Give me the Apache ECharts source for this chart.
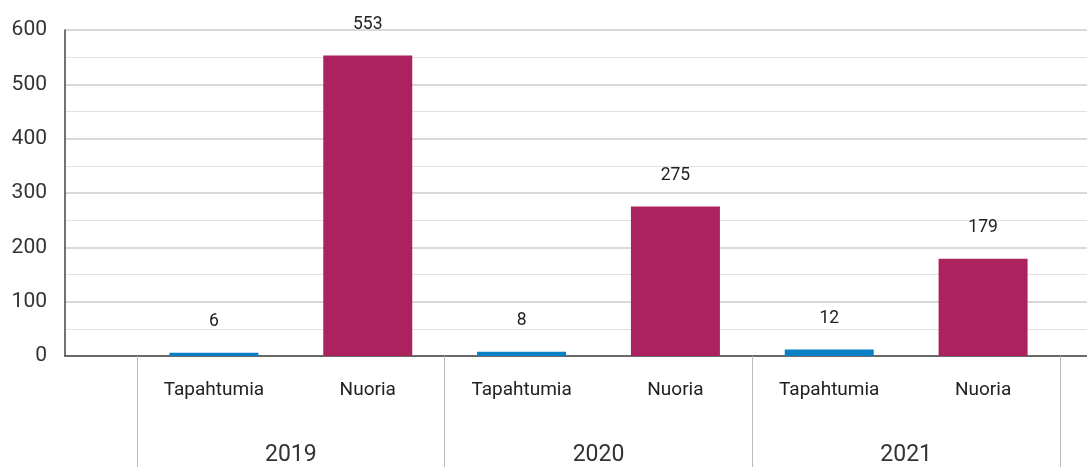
<!DOCTYPE html>
<html>
<head>
<meta charset="utf-8">
<script src="https://cdn.jsdelivr.net/npm/echarts@6/dist/echarts.min.js"></script>
<style>
  html, body { margin: 0; padding: 0; background: #fff; }
  #chart { width: 1087px; height: 467px; }
</style>
</head>
<body>
<div id="chart"></div>
<script>
// data
const years = ['2019', '2020', '2021'];
const subCategories = ['Tapahtumia', 'Nuoria', 'Tapahtumia', 'Nuoria', 'Tapahtumia', 'Nuoria'];
const values = [6, 553, 8, 275, 12, 179];

const BLUE = '#0980c6';
const MAGENTA = '#ab225f';
const FONT = 'Roboto, "Liberation Sans", sans-serif';

const chart = echarts.init(document.getElementById('chart'));

chart.setOption({
    animation: false,
    textStyle: { fontFamily: FONT },
    grid: [
        // whole plot area (gridlines, axes)
        { left: 65, right: 0, top: 30, bottom: 111 },
        // bar area
        { left: 137, right: 27, top: 30, bottom: 111 }
    ],
    xAxis: [
        {
            gridIndex: 0,
            type: 'value',
            min: 0,
            max: 1,
            axisLine: { show: true, lineStyle: { color: '#444', width: 1.5 } },
            axisTick: { show: false },
            axisLabel: { show: false },
            splitLine: { show: false }
        },
        {
            gridIndex: 1,
            type: 'category',
            data: subCategories,
            axisLine: { show: false },
            axisTick: { show: false },
            axisLabel: { margin: 25, fontSize: 19, color: '#222', fontFamily: FONT }
        },
        {
            gridIndex: 1,
            type: 'category',
            data: years,
            position: 'bottom',
            axisLine: { show: false },
            axisTick: { show: true, length: 112, lineStyle: { color: '#bbb', width: 1 } },
            axisLabel: { margin: 88, fontSize: 23, color: '#333', fontFamily: FONT }
        }
    ],
    yAxis: [
        {
            gridIndex: 0,
            type: 'value',
            min: 0,
            max: 600,
            interval: 100,
            axisLine: { show: true, lineStyle: { color: '#444', width: 1.5 } },
            axisTick: { show: false },
            axisLabel: { margin: 18, fontSize: 21, color: '#333', fontFamily: FONT },
            splitLine: { show: true, lineStyle: { color: '#cccccc', width: 1.5 } },
            minorTick: { show: false, splitNumber: 2 },
            minorSplitLine: { show: true, lineStyle: { color: '#e2e2e2', width: 1 } }
        },
        {
            gridIndex: 1,
            type: 'value',
            min: 0,
            max: 600,
            show: false
        }
    ],
    series: [
        {
            type: 'bar',
            xAxisIndex: 1,
            yAxisIndex: 1,
            data: values,
            barWidth: 89,
            itemStyle: {
                color: function (p) {
                    return subCategories[p.dataIndex] === 'Tapahtumia' ? BLUE : MAGENTA;
                }
            },
            label: {
                show: true,
                position: 'top',
                distance: 22,
                fontSize: 17.5,
                color: '#222',
                fontFamily: FONT
            }
        }
    ]
});
</script>
</body>
</html>
